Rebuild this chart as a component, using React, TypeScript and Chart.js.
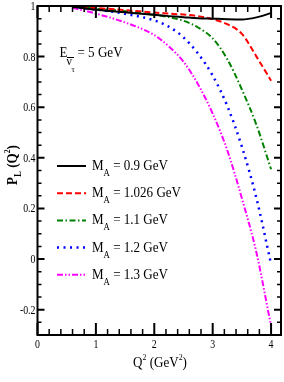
import { useEffect, useRef } from "react";
import { Chart, registerables } from "chart.js";

Chart.register(...registerables);

// Q^2 sample points (GeV^2)
const q2 = [0.6, 1.0, 1.5, 2.0, 2.25, 2.5, 2.75, 3.0, 3.25, 3.5, 3.75, 4.0];
// P_L(Q^2) for each axial mass
const pl090 = [0.997, 0.985, 0.975, 0.965, 0.96, 0.956, 0.952, 0.95, 0.948, 0.947, 0.955, 0.972];
const pl1026 = [0.998, 0.992, 0.984, 0.974, 0.97, 0.966, 0.96, 0.948, 0.928, 0.89, 0.8, 0.705];
const pl110 = [0.998, 0.99, 0.979, 0.965, 0.956, 0.942, 0.915, 0.872, 0.79, 0.67, 0.53, 0.355];
const pl120 = [0.997, 0.986, 0.969, 0.943, 0.918, 0.876, 0.812, 0.725, 0.605, 0.444, 0.24, -0.02];
const pl130 = [0.993, 0.97, 0.935, 0.885, 0.84, 0.78, 0.69, 0.575, 0.43, 0.24, 0.025, -0.265];

const masses = ["0.9", "1.026", "1.1", "1.2", "1.3"];
const seriesValues = [pl090, pl1026, pl110, pl120, pl130];
const colors = ["#000000", "#ff0000", "#008000", "#0000ff", "#ff00ff"];
const dashes: number[][] = [[], [6, 3], [6, 2.5, 1.5, 2.5], [2, 4.5], [6, 2, 1.5, 2, 1.5, 2]];
const widths = [2, 2, 2, 2.5, 2];

const xTickLabels = ["0", "1", "2", "3", "4"];
const yTickLabels = ["-0.2", "0", "0.2", "0.4", "0.6", "0.8", "1"];
const xMinorStep = 0.2;
const yMinorStep = 0.05;

const FONT = '"Liberation Serif", "Times New Roman", serif';

type Part = { t: string; size: number; dy?: number; bold?: boolean };

function partFont(p: Part) {
  return `${p.bold ? "bold " : ""}${p.size}px ${FONT}`;
}

function richWidth(ctx: CanvasRenderingContext2D, parts: Part[], sx: number) {
  let w = 0;
  for (const p of parts) {
    ctx.font = partFont(p);
    w += ctx.measureText(p.t).width * sx;
  }
  return w;
}

function drawRich(
  ctx: CanvasRenderingContext2D,
  parts: Part[],
  x: number,
  y: number,
  align: "left" | "center" | "right",
  sx: number
) {
  const w = richWidth(ctx, parts, sx);
  let cx = align === "center" ? x - w / 2 : align === "right" ? x - w : x;
  ctx.textAlign = "left";
  ctx.textBaseline = "alphabetic";
  for (const p of parts) {
    ctx.font = partFont(p);
    const mw = ctx.measureText(p.t).width;
    ctx.save();
    ctx.translate(cx, y + (p.dy || 0));
    ctx.scale(sx, 1);
    ctx.fillText(p.t, 0, 0);
    ctx.restore();
    cx += mw * sx;
  }
}

const framePlugin = {
  id: "framePlugin",
  afterDraw(chart: any) {
    const ctx: CanvasRenderingContext2D = chart.ctx;
    const { left, right, top, bottom } = chart.chartArea;
    const xs = chart.scales.x;
    const ys = chart.scales.y;
    ctx.save();
    ctx.fillStyle = "#000";
    ctx.strokeStyle = "#000";

    // ticks
    const xmin = xs.min, xmax = xs.max;
    for (let k = 0; ; k++) {
      const v = xmin + k * xMinorStep;
      if (v > xmax + 1e-9) break;
      const major = Math.abs(v - Math.round(v)) < 1e-6;
      const px = xs.getPixelForValue(v);
      const len = major ? 12 : 6;
      ctx.lineWidth = major ? 2 : 1.5;
      ctx.beginPath();
      ctx.moveTo(px, bottom);
      ctx.lineTo(px, bottom - len);
      ctx.moveTo(px, top);
      ctx.lineTo(px, top + len);
      ctx.stroke();
    }
    const ymin = ys.min, ymax = ys.max;
    for (let k = 0; ; k++) {
      const v = ymin + k * yMinorStep;
      if (v > ymax + 1e-9) break;
      const major = Math.abs(v / 0.2 - Math.round(v / 0.2)) < 1e-6;
      const py = ys.getPixelForValue(v);
      const len = major ? 7 : 4;
      ctx.lineWidth = major ? 2 : 1.5;
      ctx.beginPath();
      ctx.moveTo(left, py);
      ctx.lineTo(left + len, py);
      ctx.moveTo(right, py);
      ctx.lineTo(right - len, py);
      ctx.stroke();
    }

    // frame
    ctx.lineWidth = 2;
    ctx.strokeRect(left, top, right - left, bottom - top);

    // tick labels
    for (const lab of xTickLabels) {
      const px = xs.getPixelForValue(parseFloat(lab));
      drawRich(ctx, [{ t: lab, size: 12 }], px, bottom + 13, "center", 0.82);
    }
    for (const lab of yTickLabels) {
      const py = ys.getPixelForValue(parseFloat(lab));
      drawRich(ctx, [{ t: lab, size: 12 }], left - 2, py + 4, "right", 0.82);
    }

    // axis titles
    drawRich(
      ctx,
      [
        { t: "Q", size: 15 },
        { t: "2", size: 9, dy: -7 },
        { t: " (GeV", size: 15 },
        { t: "2", size: 9, dy: -7 },
        { t: ")", size: 15 },
      ],
      160,
      bottom + 32,
      "center",
      0.87
    );
    ctx.save();
    ctx.translate(12, 165);
    ctx.rotate(-Math.PI / 2);
    drawRich(
      ctx,
      [
        { t: "P", size: 15, bold: true },
        { t: "L", size: 10, dy: 4, bold: true },
        { t: " (Q", size: 15, bold: true },
        { t: "2", size: 9, dy: -7, bold: true },
        { t: ")", size: 15, bold: true },
      ],
      0,
      5,
      "center",
      0.87
    );
    ctx.restore();

    // energy annotation
    drawRich(ctx, [{ t: "E", size: 15 }], left + 22, top + 51, "left", 0.87);
    drawRich(ctx, [{ t: "ν", size: 13 }], left + 29, top + 59, "left", 0.9);
    ctx.lineWidth = 1;
    ctx.beginPath();
    ctx.moveTo(left + 29.5, top + 51.5);
    ctx.lineTo(left + 36.5, top + 51.5);
    ctx.stroke();
    drawRich(ctx, [{ t: "τ", size: 9 }], left + 34, top + 66, "left", 0.9);
    drawRich(ctx, [{ t: "= 5 GeV", size: 15 }], left + 40, top + 51, "left", 0.87);

    // legend
    const ds = chart.data.datasets;
    for (let i = 0; i < ds.length; i++) {
      const ly = top + 160 + i * 27.2;
      ctx.save();
      ctx.strokeStyle = ds[i].borderColor;
      ctx.lineWidth = ds[i].borderWidth;
      ctx.setLineDash(ds[i].borderDash || []);
      ctx.beginPath();
      ctx.moveTo(left + 19.5, ly);
      ctx.lineTo(left + 48.5, ly);
      ctx.stroke();
      ctx.restore();
      drawRich(
        ctx,
        [
          { t: "M", size: 15 },
          { t: "A", size: 10, dy: 6 },
          { t: " = " + masses[i] + " GeV", size: 15 },
        ],
        left + 54.5,
        ly + 4,
        "left",
        0.87
      );
    }
    ctx.restore();
  },
};

export default function App() {
  const ref = useRef<HTMLCanvasElement | null>(null);
  useEffect(() => {
    if (!ref.current) return;
    const datasets = seriesValues.map((vals, i) => ({
      label: "M_A = " + masses[i] + " GeV",
      data: q2.map((x, j) => ({ x, y: vals[j] })),
      borderColor: colors[i],
      backgroundColor: colors[i],
      borderWidth: widths[i],
      borderDash: dashes[i],
      borderCapStyle: "butt" as const,
      pointRadius: 0,
      fill: false,
      cubicInterpolationMode: "monotone" as const,
    }));
    const chart = new Chart(ref.current, {
      type: "line",
      data: { datasets },
      options: {
        animation: false,
        responsive: false,
        devicePixelRatio: 1,
        layout: { padding: { top: 6, right: 3, left: 0, bottom: 0 } },
        plugins: { legend: { display: false }, tooltip: { enabled: false } },
        scales: {
          x: {
            type: "linear",
            min: 0,
            max: 4.17,
            ticks: { display: false, stepSize: 1 },
            grid: { display: false },
            border: { display: false },
            afterFit: (s: any) => {
              s.height = 47;
            },
          },
          y: {
            type: "linear",
            min: -0.3,
            max: 1,
            ticks: { display: false, stepSize: 0.2 },
            grid: { display: false },
            border: { display: false },
            afterFit: (s: any) => {
              s.width = 37.5;
            },
          },
        },
      },
      plugins: [framePlugin],
    });
    return () => chart.destroy();
  }, []);
  return (
    <div style={{ position: "fixed", left: 0, top: 0, width: 284, height: 382, background: "#fff" }}>
      <canvas ref={ref} width={284} height={382} style={{ display: "block" }} />
    </div>
  );
}
